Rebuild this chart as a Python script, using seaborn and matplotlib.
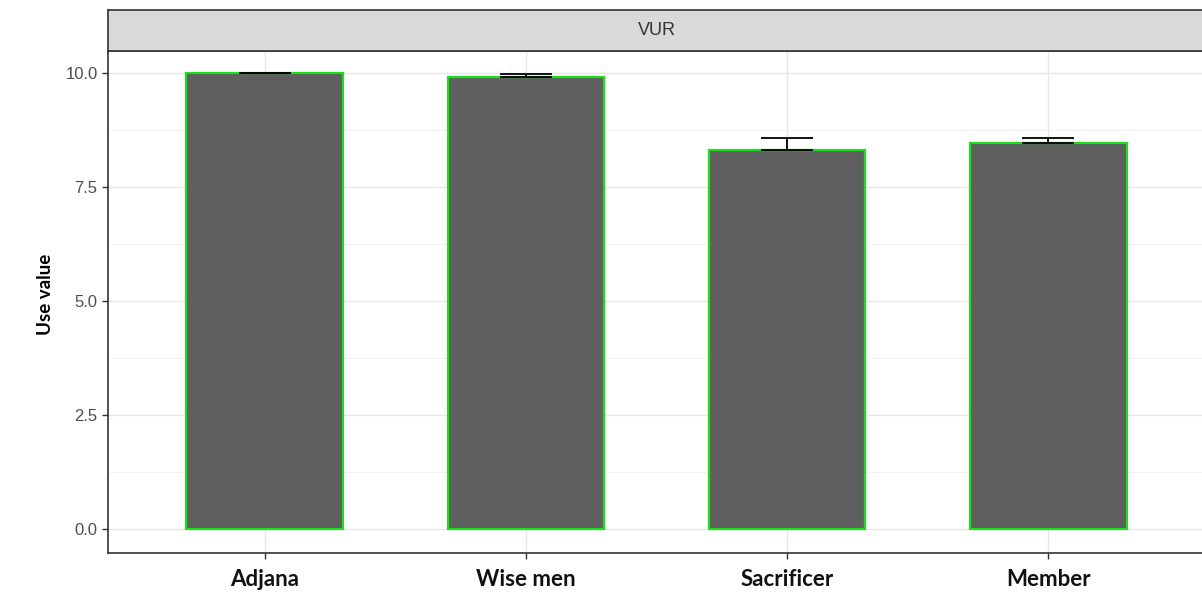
import numpy as np
import matplotlib
matplotlib.use("Agg")
import matplotlib.pyplot as plt
from matplotlib.ticker import MultipleLocator
import seaborn as sns

# Use value per informant group (mean and standard error)
groups = ["Adjana", "Wise men", "Sacrificer", "Member"]
use_value = [10.0, 9.92, 8.30, 8.46]
std_err = [0.0, 0.06, 0.28, 0.12]
facet = "VUR"

sns.set_theme(style="white")
plt.rcParams["font.family"] = ["Liberation Sans", "DejaVu Sans"]

W, H = 1202, 592
fig = plt.figure(figsize=(W / 100, H / 100), dpi=100)

# panel and strip geometry in pixels
px_left, px_right, px_top, px_bottom = 108, 1205, 51, 553
strip_top = 10

ax = fig.add_axes([px_left / W, 1 - px_bottom / H,
                   (px_right - px_left) / W, (px_bottom - px_top) / H])
strip = fig.add_axes([px_left / W, 1 - px_top / H,
                      (px_right - px_left) / W, (px_top - strip_top) / H])

sns.barplot(x=groups, y=use_value, ax=ax, color="#5f5f5f",
            edgecolor="#19e019", linewidth=1.6, width=0.6,
            saturation=1, errorbar=None, zorder=3)

xs = np.arange(len(groups))
ax.errorbar(xs, use_value, yerr=[np.zeros(len(std_err)), std_err],
            fmt="none", ecolor="black", elinewidth=1.3, capsize=18.7,
            capthick=1.3, zorder=4)

ax.set_xlim(-0.6, len(groups) - 1 + 0.6)
ax.set_ylim(-0.526, 10.48)
ax.yaxis.set_major_locator(MultipleLocator(2.5))
ax.yaxis.set_minor_locator(MultipleLocator(1.25))
ax.set_yticklabels([f"{v:.1f}" for v in ax.get_yticks()])
ax.set_ylim(-0.526, 10.48)

ax.grid(which="major", axis="both", color="#e6e6e6", linewidth=1.0, zorder=0)
ax.grid(which="minor", axis="y", color="#f0f0f0", linewidth=0.6, zorder=0)
ax.set_axisbelow(True)

for side, sp in ax.spines.items():
    sp.set_color("#333333")
    sp.set_linewidth(1.2)

ax.tick_params(axis="y", which="major", length=4.5, width=1, color="#333333",
               labelsize=12, labelcolor="#4d4d4d", pad=3, left=True)
ax.tick_params(axis="y", which="minor", length=0)
ax.tick_params(axis="x", length=4.5, width=1, color="#333333", pad=7, bottom=True)
for lab in ax.get_xticklabels():
    lab.set_fontfamily(["Lato", "DejaVu Sans"])
    lab.set_fontweight("bold")
    lab.set_fontsize(16)
    lab.set_color("#111111")

ax.set_xlabel("")
ax.set_ylabel("Use value", fontsize=13.5, fontweight="bold",
              family=["Lato", "DejaVu Sans"], color="black")
ax.yaxis.set_label_coords(-0.049, 0.516)

# facet strip
strip.set_facecolor("#d9d9d9")
strip.set_xticks([])
strip.set_yticks([])
for sp in strip.spines.values():
    sp.set_color("#333333")
    sp.set_linewidth(1.2)
strip.text(0.5, 0.5, facet, ha="center", va="center", fontsize=13,
           color="#333333", transform=strip.transAxes)

fig.savefig("out.png", dpi=100, facecolor="white")
